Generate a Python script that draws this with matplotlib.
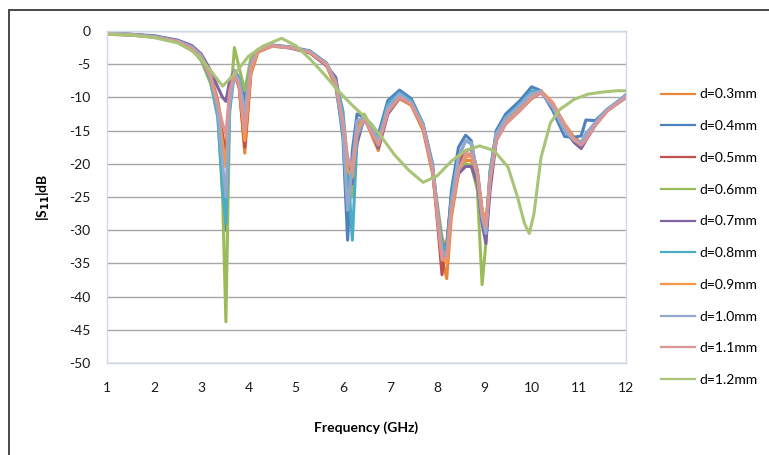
import matplotlib
matplotlib.use("Agg")
import matplotlib.pyplot as plt
from matplotlib.patches import Rectangle

# frequency grid shared by the d=0.3 ... d=1.1 sweeps (GHz)
freq = [1.0, 1.5, 2.0, 2.5, 2.8, 3.0, 3.2, 3.35, 3.45, 3.52,
        3.6, 3.7, 3.8, 3.92, 4.05, 4.2, 4.5, 4.9, 5.3, 5.65,
        5.85, 6.0, 6.1, 6.2, 6.3, 6.45, 6.6, 6.75, 6.95, 7.2,
        7.45, 7.7, 7.9, 8.02, 8.1, 8.2, 8.3, 8.45, 8.6, 8.72,
        8.85, 8.95, 9.03, 9.12, 9.25, 9.45, 9.75, 10.0, 10.2, 10.45,
        10.7, 10.9, 11.05, 11.15, 11.35, 11.6, 11.8, 12.0]

s11_d03 = [-0.4, -0.5, -0.8, -1.5, -2.5, -3.8, -6.5, -10.5, -15.0, -20.0,
           -10.0, -6.0, -8.0, -18.4, -6.5, -3.2, -2.3, -2.5, -3.3, -5.2,
           -8.5, -15.0, -24.0, -21.0, -14.5, -13.0, -15.5, -18.0, -12.5, -10.2,
           -11.2, -15.0, -21.5, -28.0, -34.0, -37.3, -28.0, -21.5, -19.5, -19.5,
           -22.0, -27.0, -29.0, -22.5, -16.5, -14.0, -12.0, -10.2, -9.3, -11.0,
           -14.0, -16.0, -16.8, -16.0, -14.0, -12.0, -10.8, -9.8]
s11_d04 = [-0.3, -0.5, -0.7, -1.4, -2.3, -3.6, -6.8, -12.0, -22.0, -30.0,
           -11.0, -6.0, -7.0, -10.5, -4.5, -2.8, -2.1, -2.4, -3.0, -4.8,
           -8.0, -16.0, -31.5, -18.0, -12.5, -13.0, -14.0, -15.6, -10.5, -8.9,
           -10.2, -14.0, -20.0, -28.0, -32.5, -33.0, -24.0, -17.5, -15.7, -16.5,
           -22.0, -28.5, -31.0, -21.5, -15.0, -12.5, -10.5, -8.4, -9.0, -12.0,
           -15.9, -16.0, -15.8, -13.4, -13.5, -11.8, -10.8, -9.6]
s11_d05 = [-0.5, -0.6, -0.9, -1.6, -2.6, -4.0, -7.0, -11.0, -16.0, -19.0,
           -9.0, -6.5, -8.5, -17.5, -6.0, -3.0, -2.2, -2.5, -3.2, -5.0,
           -8.0, -14.0, -24.5, -20.0, -14.0, -13.0, -15.0, -17.5, -12.0, -10.0,
           -11.0, -14.5, -21.0, -30.0, -36.7, -32.0, -25.0, -20.0, -18.0, -17.8,
           -21.0, -27.0, -29.5, -22.0, -16.0, -13.5, -11.5, -10.0, -9.2, -11.0,
           -14.5, -16.5, -17.2, -16.2, -14.0, -12.0, -11.0, -10.0]
s11_d06 = [-0.4, -0.6, -0.9, -1.7, -2.8, -4.5, -8.0, -13.0, -25.0, -43.8,
           -12.0, -2.5, -5.5, -9.0, -4.0, -2.8, -2.2, -2.5, -3.2, -5.0,
           -8.0, -14.0, -22.0, -25.0, -15.0, -12.5, -14.5, -17.0, -11.5, -9.8,
           -11.0, -14.5, -21.0, -27.0, -31.0, -33.0, -26.0, -21.0, -20.0, -20.2,
           -24.0, -38.2, -32.0, -21.0, -15.5, -13.5, -11.5, -9.8, -9.2, -11.0,
           -14.5, -16.5, -17.0, -16.0, -14.0, -12.0, -10.8, -9.8]
s11_d07 = [-0.3, -0.5, -0.8, -1.4, -2.2, -3.5, -6.0, -8.5, -10.0, -10.6,
           -7.5, -6.0, -7.5, -13.0, -5.0, -2.9, -2.2, -2.6, -3.3, -5.2,
           -7.0, -13.4, -20.0, -23.0, -17.0, -12.9, -15.0, -17.6, -12.5, -10.0,
           -11.0, -14.5, -21.0, -28.0, -32.0, -32.5, -26.0, -21.5, -20.4, -20.4,
           -23.0, -29.0, -32.0, -24.0, -16.5, -13.8, -11.8, -10.0, -9.3, -11.0,
           -14.8, -16.8, -17.7, -16.5, -14.2, -12.0, -11.0, -10.0]
s11_d08 = [-0.4, -0.6, -0.9, -1.6, -2.6, -4.0, -7.5, -13.0, -24.0, -29.0,
           -12.0, -6.5, -7.0, -12.0, -5.0, -2.9, -2.2, -2.5, -3.1, -4.9,
           -7.5, -12.0, -20.0, -31.5, -16.0, -13.5, -14.5, -16.5, -11.0, -9.3,
           -10.5, -14.0, -20.5, -28.0, -32.0, -33.0, -25.0, -19.0, -16.5, -17.0,
           -22.0, -28.0, -30.0, -21.0, -15.5, -13.0, -11.0, -9.0, -9.1, -11.5,
           -15.0, -16.5, -16.8, -15.5, -13.8, -11.8, -10.8, -9.6]
s11_d09 = [-0.4, -0.6, -0.9, -1.6, -2.5, -3.9, -7.0, -11.5, -17.0, -20.5,
           -10.0, -6.2, -8.0, -16.5, -6.0, -3.0, -2.3, -2.5, -3.2, -5.0,
           -8.0, -14.5, -21.0, -22.0, -15.0, -13.0, -15.0, -17.0, -12.0, -9.8,
           -11.0, -14.5, -21.0, -29.0, -34.0, -35.0, -27.0, -21.0, -19.0, -18.8,
           -21.5, -27.0, -29.0, -22.0, -16.0, -13.5, -11.5, -9.8, -9.0, -10.8,
           -14.2, -16.2, -17.0, -16.2, -14.0, -12.0, -10.8, -9.7]
s11_d10 = [-0.3, -0.5, -0.8, -1.5, -2.4, -3.7, -6.8, -12.0, -20.0, -25.0,
           -11.0, -6.0, -7.5, -12.5, -5.0, -2.9, -2.2, -2.5, -3.1, -4.9,
           -8.0, -15.0, -27.0, -20.0, -13.5, -13.0, -14.5, -16.5, -11.5, -9.5,
           -10.8, -14.2, -20.5, -28.0, -33.0, -34.0, -26.0, -19.0, -16.5, -16.8,
           -21.5, -28.0, -30.5, -22.0, -15.5, -13.2, -11.2, -9.4, -9.1, -11.5,
           -15.0, -16.4, -16.8, -15.5, -13.8, -11.8, -10.7, -9.7]
s11_d11 = [-0.4, -0.6, -0.9, -1.6, -2.6, -4.0, -7.0, -11.0, -14.0, -15.5,
           -9.0, -6.5, -8.2, -15.0, -5.5, -3.0, -2.2, -2.5, -3.2, -5.0,
           -7.8, -13.5, -19.0, -21.0, -15.5, -13.2, -15.2, -17.2, -12.2, -10.0,
           -11.0, -14.5, -21.0, -29.0, -34.5, -34.0, -27.0, -21.0, -18.5, -18.5,
           -21.5, -27.5, -29.5, -22.5, -16.5, -14.0, -12.0, -10.0, -9.3, -11.0,
           -14.2, -16.4, -17.2, -16.4, -14.2, -12.1, -11.0, -10.0]

# d=1.2 has its own sweep (smooth curve)
freq_d12 = [1.0, 1.5, 2.0, 2.5, 2.8, 3.0, 3.2, 3.45, 3.7, 4.0,
            4.3, 4.7, 5.0, 5.3, 5.6, 5.9, 6.2, 6.5, 6.8, 7.1,
            7.4, 7.7, 8.0, 8.3, 8.6, 8.9, 9.2, 9.5, 9.7, 9.85,
            9.95, 10.05, 10.2, 10.4, 10.6, 10.9, 11.2, 11.5, 11.8, 12.0]
s11_d12 = [-0.5, -0.6, -1.0, -1.8, -3.0, -4.2, -6.0, -8.3, -6.5, -3.8,
           -2.3, -1.1, -2.2, -4.2, -6.5, -9.0, -11.2, -13.2, -15.8, -18.7,
           -21.0, -22.8, -21.8, -19.6, -18.0, -17.3, -18.0, -20.5, -25.0, -29.0,
           -30.5, -27.5, -19.0, -13.8, -11.8, -10.3, -9.5, -9.2, -9.0, -9.0]

labels = ["d=0.3mm", "d=0.4mm", "d=0.5mm", "d=0.6mm", "d=0.7mm",
          "d=0.8mm", "d=0.9mm", "d=1.0mm", "d=1.1mm", "d=1.2mm"]
series = [s11_d03, s11_d04, s11_d05, s11_d06, s11_d07,
          s11_d08, s11_d09, s11_d10, s11_d11, s11_d12]
freqs = [freq] * 9 + [freq_d12]
colors = ["#E8873A", "#4F81BD", "#C0504D", "#9BBB59", "#8064A2",
          "#4BACC6", "#F79646", "#95A9D0", "#D99694", "#A9C477"]

plt.rcParams["font.family"] = ["Lato", "DejaVu Sans"]
plt.rcParams["axes.unicode_minus"] = False

fig = plt.figure(figsize=(7.69, 4.55), dpi=100)
ax = fig.add_axes([107 / 769, 1 - 363 / 455, 519 / 769, 332 / 455])

for f, s, c, lab in zip(freqs, series, colors, labels):
    ax.plot(f, s, color=c, lw=2.2, label=lab, solid_joinstyle="round")

ax.set_xlim(1, 12)
ax.set_ylim(-50, 0)
ax.set_xticks(range(1, 13))
ax.set_yticks(range(-50, 1, 5))
ax.tick_params(length=0, labelsize=10, colors="#1a1a1a")
ax.tick_params(axis="y", pad=12)
ax.tick_params(axis="x", pad=14)
ax.yaxis.grid(True, color="#A6A6A6", lw=1.0)
ax.set_axisbelow(True)
for side in ["left", "right", "top", "bottom"]:
    ax.spines[side].set_color("#D0D8E8")
    ax.spines[side].set_linewidth(1.0)

ax.set_xlabel("Frequency (GHz)", fontsize=10, fontweight="bold", labelpad=19)
ax.set_ylabel("|S$_{\\mathbf{11}}$|dB", fontsize=10, fontweight="bold", labelpad=12)

leg = ax.legend(loc="upper left", bbox_to_anchor=(648 / 769, 1 - 76 / 455),
                bbox_transform=fig.transFigure, frameon=False, fontsize=10,
                labelspacing=1.42, handlelength=2.5, handletextpad=0.3)
for h in leg.get_lines():
    h.set_linewidth(1.6)

# outer chart border (right/bottom cropped in the source)
fig.add_artist(Rectangle((9 / 769, -0.1), 1.2, 1 - 10 / 455 + 0.1,
                         transform=fig.transFigure, fill=False,
                         edgecolor="#3a3a3a", lw=1.3))

fig.savefig("out.png", dpi=100)
